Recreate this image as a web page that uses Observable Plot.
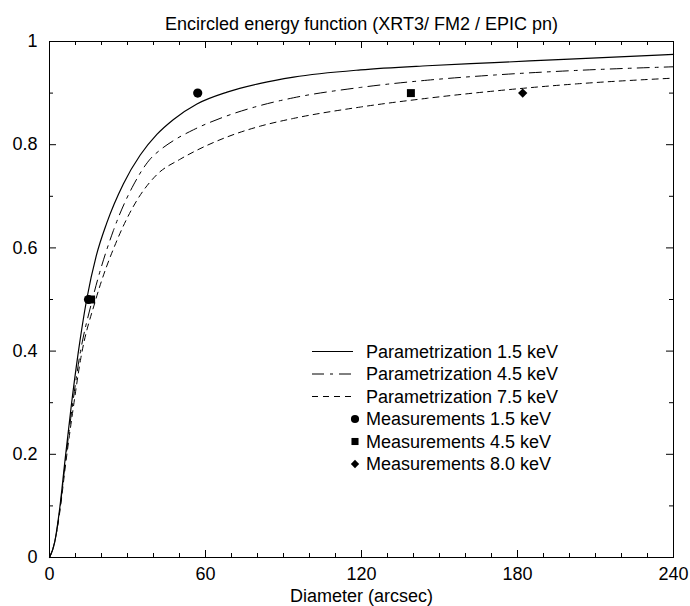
<!DOCTYPE html>
<html><head><meta charset="utf-8">
<script src="https://cdn.jsdelivr.net/npm/d3@7"></script>
<script src="https://cdn.jsdelivr.net/npm/@observablehq/plot@0.6"></script>
<style>body{margin:0;background:#fff;}</style>
</head><body><div id="chart"></div>
<script>
const title = "Encircled energy function (XRT3/ FM2 / EPIC pn)";
const xLabel = "Diameter (arcsec)";
const xTicks = [0, 60, 120, 180, 240];
const xTickLabels = ["0", "60", "120", "180", "240"];
const xMinorTicks = [10,20,30,40,50,70,80,90,100,110,130,140,150,160,170,190,200,210,220,230];
const yTicks = [0, 0.2, 0.4, 0.6, 0.8, 1];
const yTickLabels = ["0", "0.2", "0.4", "0.6", "0.8", "1"];
const yMinorTicks = [0.1, 0.3, 0.5, 0.7, 0.9];

// Parametrization curves
const param15X = [0, 2, 3.8, 6, 8.4, 11, 14.3, 18, 22, 28.4, 34.9, 41.3, 47.7, 56.7, 68.3, 81.1, 93.9, 119.6, 145.3, 171, 200, 240];
const param15Y = [0, 0.03, 0.09, 0.19, 0.295, 0.395, 0.5, 0.585, 0.648, 0.724, 0.78, 0.82, 0.849, 0.879, 0.902, 0.919, 0.931, 0.945, 0.953, 0.959, 0.966, 0.975];
const param45X = [0, 2, 3.9, 6.2, 8.7, 11.6, 16.5, 24.6, 32.3, 38.7, 42.6, 47.7, 55.4, 68.3, 81.1, 93.9, 119.6, 145.3, 171, 203, 240];
const param45Y = [0, 0.03, 0.09, 0.19, 0.29, 0.39, 0.5, 0.634, 0.722, 0.772, 0.79, 0.808, 0.829, 0.856, 0.876, 0.891, 0.911, 0.925, 0.935, 0.944, 0.951];
const param75X = [0, 2, 4.0, 6.3, 9.0, 12.0, 17.8, 25.9, 33.6, 41.3, 50.3, 55.4, 68.3, 81.1, 93.9, 119.6, 145.3, 171, 203, 240];
const param75Y = [0, 0.03, 0.09, 0.185, 0.285, 0.385, 0.5, 0.614, 0.692, 0.742, 0.772, 0.786, 0.815, 0.836, 0.851, 0.873, 0.890, 0.904, 0.918, 0.929];

// Measurements
const meas15X = [15, 57];
const meas15Y = [0.5, 0.9];
const meas45X = [16, 139];
const meas45Y = [0.5, 0.9];
const meas80X = [182];
const meas80Y = [0.9];

const legendLabels = ["Parametrization 1.5 keV", "Parametrization 4.5 keV", "Parametrization 7.5 keV",
  "Measurements 1.5 keV", "Measurements 4.5 keV", "Measurements 8.0 keV"];

const toRows = (xs, ys) => xs.map((x, i) => ({x, y: ys[i]}));
const p15 = toRows(param15X, param15Y);
const p45 = toRows(param45X, param45Y);
const p75 = toRows(param75X, param75Y);
const m15 = toRows(meas15X, meas15Y);
const m45 = toRows(meas45X, meas45Y);
const m80 = toRows(meas80X, meas80Y);

const W = 690, H = 606, mT = 41, mB = 49, mL = 49, mR = 17;
const pW = W - mL - mR, pH = H - mT - mB;
const font = "Liberation Sans, Arial, Helvetica, sans-serif";
const DASHDOT = "12,6,3,6", DASH = "6,5";

const chart = Plot.plot({
  width: W, height: H,
  marginTop: mT, marginBottom: mB, marginLeft: mL, marginRight: mR,
  style: {fontFamily: font, fontSize: "18px", background: "white", color: "black"},
  x: {domain: [0, 240], axis: null},
  y: {domain: [0, 1], axis: null},
  marks: [
    Plot.line(p15, {x: "x", y: "y", curve: "monotone-x", stroke: "black", strokeWidth: 1.2}),
    Plot.line(p45, {x: "x", y: "y", curve: "monotone-x", stroke: "black", strokeWidth: 1, strokeDasharray: DASHDOT}),
    Plot.line(p75, {x: "x", y: "y", curve: "monotone-x", stroke: "black", strokeWidth: 1, strokeDasharray: DASH}),
    Plot.dot(m15, {x: "x", y: "y", symbol: "circle", r: 4.6, fill: "black"}),
    Plot.dot(m45, {x: "x", y: "y", symbol: "square", r: 4.5, fill: "black"}),
    Plot.dot(m80, {x: "x", y: "y", symbol: "diamond2", r: 4.2, fill: "black"}),
    // ticks (inward, mirrored)
    Plot.ruleX(xTicks, {x: d => d, insetTop: pH - 7, stroke: "black"}),
    Plot.ruleX(xTicks, {x: d => d, insetBottom: pH - 7, stroke: "black"}),
    Plot.ruleX(xMinorTicks, {x: d => d, insetTop: pH - 4, stroke: "black"}),
    Plot.ruleX(xMinorTicks, {x: d => d, insetBottom: pH - 4, stroke: "black"}),
    Plot.ruleY(yTicks, {y: d => d, insetRight: pW - 7, stroke: "black"}),
    Plot.ruleY(yTicks, {y: d => d, insetLeft: pW - 7, stroke: "black"}),
    Plot.ruleY(yMinorTicks, {y: d => d, insetRight: pW - 4, stroke: "black"}),
    Plot.ruleY(yMinorTicks, {y: d => d, insetLeft: pW - 4, stroke: "black"}),
    Plot.frame({stroke: "black", strokeWidth: 1}),
    // tick labels
    Plot.text(xTicks, {x: d => d, text: (d, i) => xTickLabels[i], frameAnchor: "bottom", dy: 17, lineAnchor: "middle", fill: "black", fontSize: 18}),
    Plot.text(yTicks, {y: d => d, text: (d, i) => yTickLabels[i], frameAnchor: "left", dx: -12, textAnchor: "end", fill: "black", fontSize: 18}),
    Plot.text([xLabel], {text: d => d, frameAnchor: "bottom", dy: 39, lineAnchor: "middle", fill: "black", fontSize: 18}),
    Plot.text([title], {text: d => d, frameAnchor: "top", dy: -17, lineAnchor: "middle", fill: "black", fontSize: 18})
  ]
});
document.getElementById("chart").appendChild(chart);

// Legend
const svg = d3.select(chart);
const lg = svg.append("g").attr("font-family", font).attr("font-size", 18).attr("fill", "black").attr("text-anchor", "start");
const rowY = [351.5, 374, 396.5, 419, 441.5, 464];
const lx1 = 312, lx2 = 353, mx = 355, tx = 366;
const dashes = [null, DASHDOT, DASH];
const symbols = [d3.symbolCircle, d3.symbolSquare, d3.symbolDiamond2];
const symSizes = [52, 50, 44];
legendLabels.forEach((lab, i) => {
  const y = rowY[i];
  if (i < 3) {
    const l = lg.append("line").attr("x1", lx1).attr("x2", lx2).attr("y1", y).attr("y2", y)
      .attr("stroke", "black").attr("stroke-width", i === 0 ? 1.2 : 1);
    if (dashes[i]) l.attr("stroke-dasharray", dashes[i]);
  } else {
    lg.append("path").attr("d", d3.symbol(symbols[i - 3], symSizes[i - 3])())
      .attr("transform", `translate(${mx},${y})`).attr("fill", "black");
  }
  lg.append("text").attr("x", tx).attr("y", y).attr("dy", "0.35em").attr("text-anchor", "start").text(lab);
});
</script>
</body></html>
